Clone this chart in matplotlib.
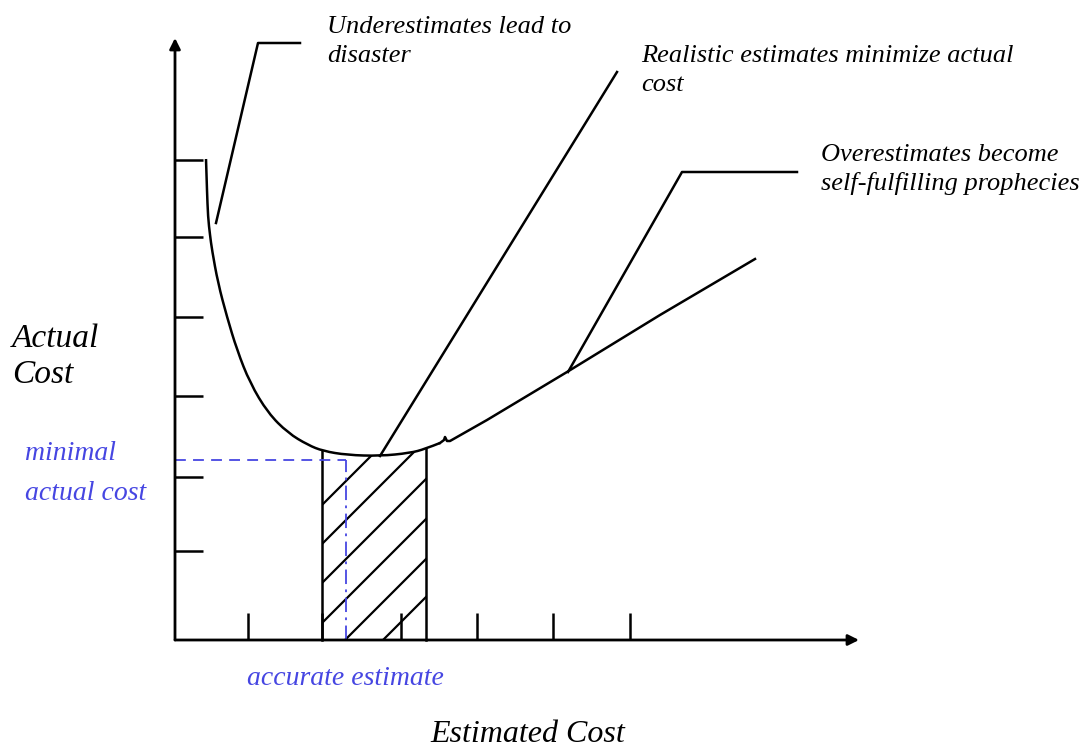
import matplotlib
matplotlib.use('Agg')
import matplotlib.pyplot as plt
import numpy as np
from matplotlib.patches import Polygon, PathPatch
from matplotlib.path import Path

# ---------------- data (chart units: origin at axis corner) ----------------
curve_x = [31, 32, 33, 35, 37, 43, 52, 62, 75, 93, 113, 133, 148, 172, 205,
           235, 250, 265]
curve_y = [481, 450, 423, 405, 390, 357, 323, 290, 257, 227, 207, 195, 189,
           185, 184, 187, 191, 197]
tail_x = [265, 269, 270, 272, 275, 312, 392, 485, 580]
tail_y = [197, 200, 203, 199, 199, 220, 268, 325, 381]

realistic_x = [205, 442]
realistic_y = [184, 568]

under_leader_x = [41, 83, 125]
under_leader_y = [417, 597, 597]

over_leader_x = [393, 507, 622]
over_leader_y = [268, 468, 468]

y_ticks = [480, 403, 323, 244, 163, 89]
x_ticks = [73, 147, 226, 302, 378, 455]

bar_left, bar_right = 147, 251
accurate_estimate = 171
minimal_cost = 180

# ---------------- figure ----------------
fig = plt.figure(figsize=(10.89, 7.47), dpi=100)
ax = fig.add_axes([0, 0, 1, 1])
ax.set_xlim(-175, 914)
ax.set_ylim(-107, 640)
ax.axis('off')

black = 'black'
blue = '#4646e2'
LW = 1.8

# axes with arrows
ax.annotate('', xy=(0, 602), xytext=(0, 0),
            arrowprops=dict(arrowstyle='-|>', lw=2.0, color=black,
                            mutation_scale=16, shrinkA=0, shrinkB=0))
ax.annotate('', xy=(684, 0), xytext=(0, 0),
            arrowprops=dict(arrowstyle='-|>', lw=2.0, color=black,
                            mutation_scale=16, shrinkA=0, shrinkB=0))

# ticks
for yt in y_ticks:
    ax.plot([0, 28], [yt, yt], color=black, lw=LW, solid_capstyle='butt')
for xt in x_ticks:
    ax.plot([xt, xt], [0, 27], color=black, lw=LW, solid_capstyle='butt')

# smooth curve (quadratic Bezier through midpoints of the read points)
pts = list(zip(curve_x, curve_y))
verts = [pts[0], pts[1]]
codes = [Path.MOVETO, Path.LINETO]
for i in range(1, len(pts) - 1):
    mid = ((pts[i][0] + pts[i + 1][0]) / 2, (pts[i][1] + pts[i + 1][1]) / 2)
    if i == len(pts) - 2:
        mid = pts[-1]
    verts += [pts[i], mid]
    codes += [Path.CURVE3, Path.CURVE3]
ax.add_patch(PathPatch(Path(verts, codes), facecolor='none', edgecolor=black,
                       lw=LW, joinstyle='round'))
ax.plot(tail_x, tail_y, color=black, lw=LW, solid_joinstyle='round')

ax.plot(realistic_x, realistic_y, color=black, lw=LW)
ax.plot(under_leader_x, under_leader_y, color=black, lw=LW)
ax.plot(over_leader_x, over_leader_y, color=black, lw=LW)

# hatched bar
cx = np.array(curve_x + tail_x[1:], float)
cy = np.array(curve_y + tail_y[1:], float)
top_l = np.interp(bar_left, cx, cy)
top_r = np.interp(bar_right, cx, cy)
inside = (cx > bar_left) & (cx < bar_right)
poly_pts = [(bar_left, 0), (bar_left, top_l)] + \
           list(zip(cx[inside], cy[inside])) + [(bar_right, top_r), (bar_right, 0)]
clip = Polygon(poly_pts, closed=True, facecolor='none', edgecolor='none')
ax.add_patch(clip)
for k in [12, 51, 90, 130, 170, 208]:
    xs = np.array([bar_left - 10, bar_right + 10], float)
    ln, = ax.plot(xs, xs - k, color=black, lw=1.6)
    ln.set_clip_path(clip)
ax.plot([bar_left, bar_left], [0, top_l], color=black, lw=LW)
ax.plot([bar_right, bar_right], [0, top_r], color=black, lw=LW)

# blue dashed guides
ax.plot([0, accurate_estimate], [minimal_cost, minimal_cost], color=blue, lw=1.3,
        dashes=(6, 4))
ax.plot([accurate_estimate, accurate_estimate], [0, minimal_cost], color=blue, lw=1.3,
        dashes=(8, 3, 1.5, 3))

# texts
serif = ['Liberation Serif', 'DejaVu Serif']
def T(x, y, s, size, color=black):
    ax.text(x, y, s, fontsize=size, fontstyle='italic', family=serif,
            color=color, ha='left', va='baseline')

T(152, 607, 'Underestimates lead to', 19)
T(152, 578, 'disaster', 19)
T(466, 578, 'Realistic estimates minimize actual', 19)
T(466, 549, 'cost', 19)
T(646, 479, 'Overestimates become', 19)
T(646, 450, 'self-fulfilling prophecies', 19)
T(-163, 293, 'Actual', 24)
T(-163, 257, 'Cost', 24)
T(-150, 180, 'minimal', 20, blue)
T(-150, 140, 'actual cost', 20, blue)
T(72, -45, 'accurate estimate', 20, blue)
T(255, -102, 'Estimated Cost', 23)

fig.savefig('out.png', dpi=100)
